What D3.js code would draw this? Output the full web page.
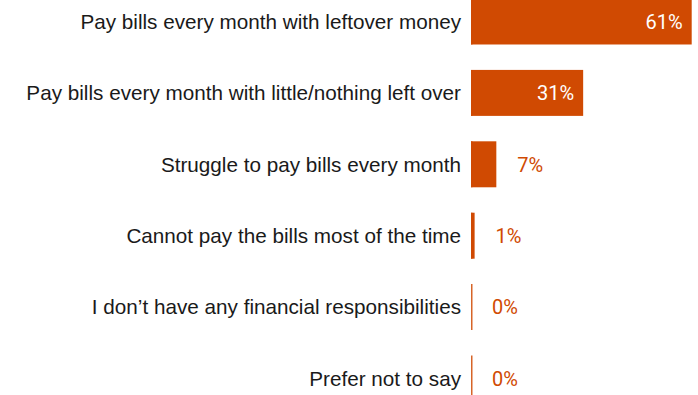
<!DOCTYPE html>
<html>
<head>
<meta charset="utf-8">
<script src="https://cdn.jsdelivr.net/npm/d3@7"></script>
<style>
  html, body { margin: 0; padding: 0; background: #ffffff; }
  svg { display: block; }
</style>
</head>
<body>
<svg id="chart" width="698" height="395"></svg>
<script>
// Ability to pay monthly bills — share of respondents
const categories = [
  "Pay bills every month with leftover money",
  "Pay bills every month with little/nothing left over",
  "Struggle to pay bills every month",
  "Cannot pay the bills most of the time",
  "I don\u2019t have any financial responsibilities",
  "Prefer not to say"
];
const values = [61, 31, 7, 1, 0, 0];
const valueLabels = ["61%", "31%", "7%", "1%", "0%", "0%"];

const W = 698, H = 395;
const barColor = "#d04a02";
const svg = d3.select("#chart");

const x = d3.scaleLinear().domain([0, 61]).range([471, 691.7]);
const y = d3.scaleBand()
  .domain(categories)
  .range([-14.2, 414.2])
  .paddingInner(0.356)
  .paddingOuter(0.178);

const rows = svg.selectAll("g.row")
  .data(categories.map((c, i) => ({ c, v: values[i], label: valueLabels[i] })))
  .join("g")
  .attr("class", "row");

// bars
rows.append("rect")
  .attr("x", x(0))
  .attr("y", d => y(d.c))
  .attr("width", d => Math.max(0, x(d.v) - x(0)))
  .attr("height", y.bandwidth())
  .attr("fill", barColor);

// thin baseline rule at zero for every row, so empty bars still show
rows.append("line")
  .attr("x1", x(0) + 0.75)
  .attr("x2", x(0) + 0.75)
  .attr("y1", d => y(d.c))
  .attr("y2", d => y(d.c) + y.bandwidth())
  .attr("stroke", barColor)
  .attr("stroke-opacity", 0.85)
  .attr("stroke-width", 1.5);

// category labels
rows.append("text")
  .attr("x", x(0) - 10)
  .attr("y", d => y(d.c) + y.bandwidth() / 2)
  .attr("dy", "0.35em")
  .attr("text-anchor", "end")
  .attr("font-family", "Liberation Sans, Arial, sans-serif")
  .attr("font-size", 20.7)
  .attr("fill", "#1a1a1a")
  .text(d => d.c);

// value labels: inside long bars, outside short ones
const inside = d => d.v >= 20;
rows.append("text")
  .attr("x", d => inside(d) ? x(d.v) - 9 : x(d.v) + 21)
  .attr("y", d => y(d.c) + y.bandwidth() / 2)
  .attr("dy", "0.36em")
  .attr("text-anchor", d => inside(d) ? "end" : "start")
  .attr("font-family", "Roboto, sans-serif")
  .attr("font-size", 20)
  .attr("fill", d => inside(d) ? "#ffffff" : barColor)
  .text(d => d.label);
</script>
</body>
</html>
